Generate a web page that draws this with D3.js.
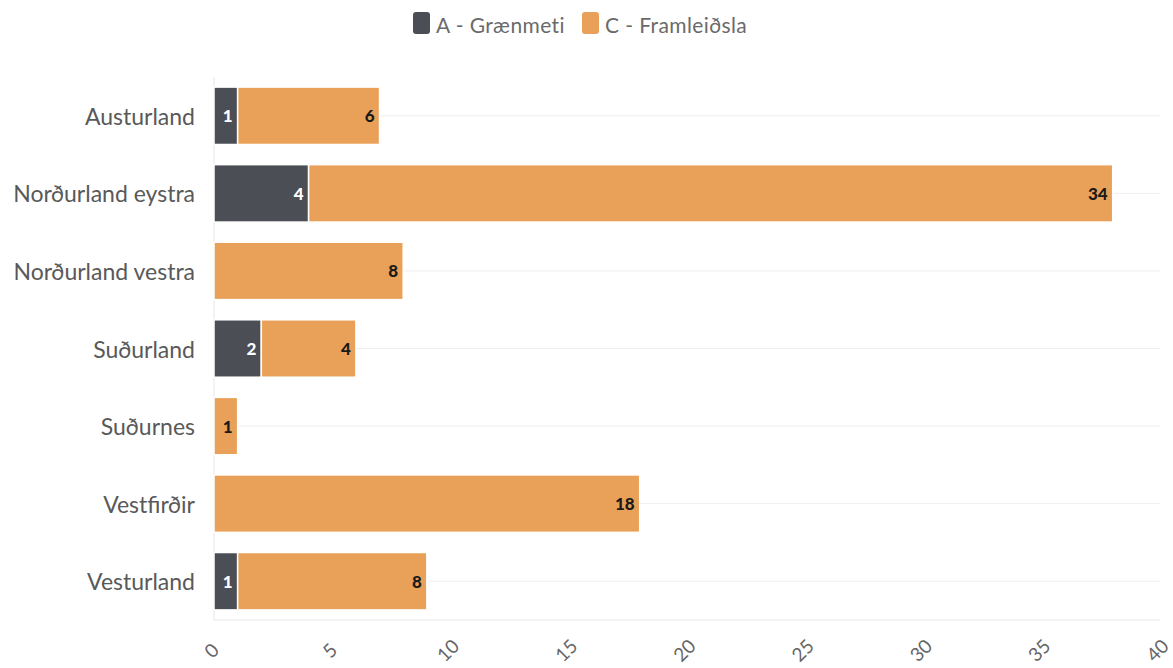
<!DOCTYPE html>
<html>
<head>
<meta charset="utf-8">
<script src="https://cdn.jsdelivr.net/npm/d3@7"></script>
<style>
  body { margin: 0; background: #fff; }
  text { font-family: Lato, "Open Sans", sans-serif; }
</style>
</head>
<body>
<div id="chart"></div>
<script>
// data
const regions = ["Austurland", "Norðurland eystra", "Norðurland vestra", "Suðurland", "Suðurnes", "Vestfirðir", "Vesturland"];
const seriesNames = ["A - Grænmeti", "C - Framleiðsla"];
const graenmeti = [1, 4, 0, 2, 0, 0, 1];
const framleidsla = [6, 34, 8, 4, 1, 18, 8];
const xTicks = [0, 5, 10, 15, 20, 25, 30, 35, 40];

const width = 1173, height = 668;
const margin = { top: 77, right: 13, bottom: 48, left: 214 };
const colors = ["#4b4e55", "#e9a159"];
const labelColors = ["#fff", "#1a1a1a"];

const svg = d3.select("#chart").append("svg")
  .attr("width", width)
  .attr("height", height);

const rows = regions.map((r, i) => ({ region: r, a: graenmeti[i], c: framleidsla[i] }));
const stack = d3.stack().keys(["a", "c"]);
const series = stack(rows);

const x = d3.scaleLinear().domain([0, 40]).range([margin.left, width - margin.right]);
const y = d3.scaleBand().domain(regions)
  .range([margin.top, height - margin.bottom])
  .paddingInner(0.26).paddingOuter(0.13);

// grid lines at category centers
svg.append("g")
  .selectAll("line")
  .data(regions)
  .join("line")
  .attr("x1", x(0)).attr("x2", x(40))
  .attr("y1", d => y(d) + y.bandwidth() / 2)
  .attr("y2", d => y(d) + y.bandwidth() / 2)
  .attr("stroke", "#eeeeee");

// axis lines
svg.append("line")
  .attr("x1", x(0)).attr("x2", x(0))
  .attr("y1", margin.top).attr("y2", height - margin.bottom)
  .attr("stroke", "#e6e6e6");
svg.append("line")
  .attr("x1", x(0)).attr("x2", x(40))
  .attr("y1", height - margin.bottom).attr("y2", height - margin.bottom)
  .attr("stroke", "#e6e6e6");

// bars
const layer = svg.append("g")
  .selectAll("g")
  .data(series)
  .join("g")
  .attr("fill", (d, i) => colors[i]);

layer.selectAll("rect")
  .data(d => d.filter(p => p[1] - p[0] > 0))
  .join("rect")
  .attr("x", d => x(d[0]))
  .attr("y", d => y(d.data.region))
  .attr("width", d => x(d[1]) - x(d[0]))
  .attr("height", y.bandwidth())
  .attr("stroke", "#fff")
  .attr("stroke-width", 1.5);

// value labels
series.forEach((s, i) => {
  svg.append("g")
    .selectAll("text")
    .data(s.filter(p => p[1] - p[0] > 0))
    .join("text")
    .attr("x", d => x(d[1]) - 5)
    .attr("y", d => y(d.data.region) + y.bandwidth() / 2)
    .attr("text-anchor", "end")
    .attr("dominant-baseline", "central")
    .attr("font-size", 17)
    .attr("font-weight", 900)
    .attr("fill", labelColors[i])
    .text(d => d[1] - d[0]);
});

// y axis labels
svg.append("g")
  .selectAll("text")
  .data(regions)
  .join("text")
  .attr("x", margin.left - 19)
  .attr("y", d => y(d) + y.bandwidth() / 2)
  .attr("text-anchor", "end")
  .attr("dominant-baseline", "central")
  .attr("font-size", 23)
  .attr("fill", "#595959")
  .text(d => d);

// x tick labels, rotated
svg.append("g")
  .selectAll("text")
  .data(xTicks)
  .join("text")
  .attr("transform", d => `translate(${x(d) - 3},${height - 18}) rotate(-45)`)
  .attr("text-anchor", "middle")
  .attr("dominant-baseline", "central")
  .attr("font-size", 19)
  .attr("fill", "#666")
  .text(d => d);

// legend
const legend = svg.append("g").attr("transform", "translate(413,12)");
const items = legend.selectAll("g")
  .data(seriesNames)
  .join("g")
  .attr("transform", (d, i) => `translate(${i * 169},0)`);
items.append("rect")
  .attr("width", 17).attr("height", 22).attr("rx", 3)
  .attr("fill", (d, i) => colors[i]);
items.append("text")
  .attr("x", 23).attr("y", 12)
  .attr("dominant-baseline", "central")
  .attr("font-size", 21)
  .attr("letter-spacing", 0.4)
  .attr("fill", "#6a6a6a")
  .text(d => d);
</script>
</body>
</html>
